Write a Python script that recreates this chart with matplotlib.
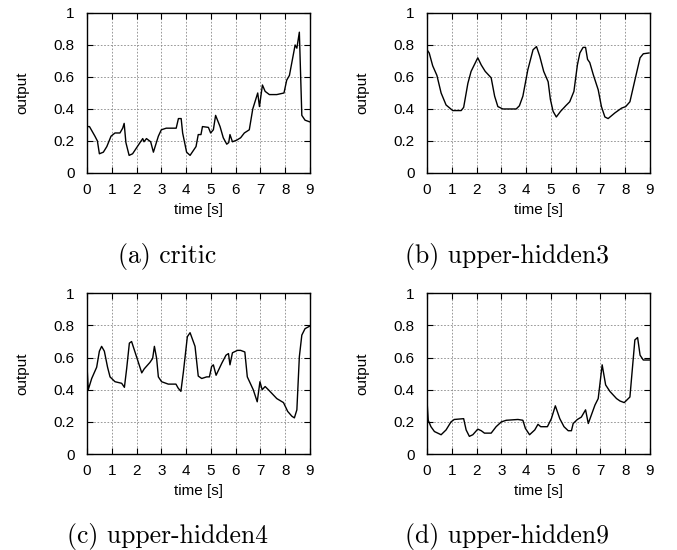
import matplotlib
matplotlib.use("Agg")
import matplotlib.pyplot as plt

# time [s] / output values
t_critic = [0, 0.1, 0.32, 0.42, 0.5, 0.66, 0.8, 0.97, 1.13, 1.33, 1.44, 1.5, 1.57, 1.7, 1.84,
            2.14, 2.25, 2.3, 2.4, 2.57, 2.68, 2.88, 3.0, 3.2, 3.6, 3.69, 3.8, 3.86, 4.02, 4.16,
            4.4, 4.49, 4.6, 4.66, 4.9, 4.99, 5.1, 5.19, 5.37, 5.5, 5.64, 5.72, 5.77, 5.87, 6.04,
            6.2, 6.35, 6.55, 6.69, 6.89, 6.96, 7.08, 7.19, 7.36, 7.66, 7.95, 8.06, 8.17, 8.4,
            8.47, 8.57, 8.67, 8.8, 8.98]
y_critic = [0.29, 0.29, 0.23, 0.20, 0.12, 0.13, 0.165, 0.23, 0.25, 0.25, 0.28, 0.31, 0.19, 0.11, 0.12,
            0.19, 0.215, 0.195, 0.215, 0.195, 0.13, 0.23, 0.27, 0.28, 0.28, 0.34, 0.34, 0.25, 0.13, 0.11,
            0.165, 0.24, 0.24, 0.29, 0.285, 0.25, 0.27, 0.36, 0.29, 0.22, 0.18, 0.19, 0.24, 0.195, 0.205,
            0.22, 0.25, 0.27, 0.40, 0.50, 0.415, 0.55, 0.51, 0.49, 0.49, 0.50, 0.58, 0.61, 0.80,
            0.78, 0.88, 0.36, 0.33, 0.32]

t_h3 = [0, 0.09, 0.23, 0.4, 0.57, 0.77, 1.04, 1.38, 1.48, 1.65, 1.78, 2.05, 2.19, 2.35, 2.59,
        2.73, 2.86, 3.06, 3.6, 3.73, 3.87, 4.07, 4.28, 4.42, 4.55, 4.71, 4.89, 4.98, 5.09, 5.22,
        5.39, 5.6, 5.76, 5.93, 6.07, 6.17, 6.3, 6.4, 6.48, 6.57, 6.71, 6.91, 7.04, 7.18, 7.31,
        7.58, 7.85, 8.02, 8.19, 8.39, 8.6, 8.73, 8.96]
y_h3 = [0.77, 0.75, 0.67, 0.61, 0.50, 0.425, 0.39, 0.39, 0.41, 0.56, 0.635, 0.72, 0.675, 0.635, 0.595,
        0.48, 0.415, 0.40, 0.40, 0.42, 0.48, 0.645, 0.77, 0.79, 0.73, 0.635, 0.57, 0.46, 0.385, 0.35,
        0.385, 0.42, 0.445, 0.51, 0.675, 0.75, 0.785, 0.785, 0.71, 0.69, 0.615, 0.52, 0.415, 0.35, 0.34,
        0.375, 0.405, 0.415, 0.445, 0.58, 0.72, 0.745, 0.75]

t_h4 = [0, 0.05, 0.19, 0.39, 0.5, 0.59, 0.7, 0.83, 0.93, 1.13, 1.4, 1.51, 1.6, 1.71, 1.8,
        2.0, 2.21, 2.31, 2.54, 2.65, 2.72, 2.81, 2.88, 3.01, 3.28, 3.59, 3.68, 3.79, 3.89, 4.05,
        4.16, 4.36, 4.49, 4.63, 4.83, 4.94, 5.03, 5.1, 5.21, 5.44, 5.61, 5.71, 5.77, 5.87, 6.07,
        6.2, 6.37, 6.47, 6.71, 6.87, 6.98, 7.07, 7.19, 7.32, 7.66, 7.93, 8.1, 8.27, 8.37, 8.47,
        8.57, 8.67, 8.8, 8.98]
y_h4 = [0.55, 0.40, 0.47, 0.54, 0.64, 0.67, 0.64, 0.54, 0.48, 0.45, 0.44, 0.415, 0.53, 0.69, 0.70,
        0.605, 0.505, 0.53, 0.57, 0.595, 0.67, 0.595, 0.48, 0.45, 0.435, 0.435, 0.41, 0.39, 0.51, 0.73,
        0.755, 0.67, 0.485, 0.47, 0.48, 0.48, 0.545, 0.555, 0.49, 0.565, 0.615, 0.625, 0.555, 0.63, 0.645,
        0.645, 0.635, 0.48, 0.40, 0.325, 0.45, 0.40, 0.42, 0.40, 0.345, 0.32, 0.265, 0.235, 0.225, 0.275,
        0.605, 0.74, 0.78, 0.795]

t_h9 = [0, 0.05, 0.16, 0.3, 0.57, 0.77, 0.97, 1.1, 1.48, 1.58, 1.71, 1.85, 2.05, 2.19, 2.32,
        2.59, 2.79, 3.0, 3.2, 3.67, 3.87, 3.97, 4.14, 4.35, 4.48, 4.59, 4.86, 5.02, 5.18, 5.36,
        5.53, 5.7, 5.83, 5.9, 6.07, 6.23, 6.4, 6.51, 6.78, 6.91, 7.07, 7.21, 7.38, 7.65, 7.79,
        7.96, 8.06, 8.19, 8.39, 8.5, 8.6, 8.73, 9.0]
y_h9 = [0.335, 0.21, 0.17, 0.14, 0.12, 0.15, 0.20, 0.215, 0.22, 0.15, 0.11, 0.12, 0.155, 0.145, 0.13,
        0.13, 0.17, 0.20, 0.21, 0.215, 0.21, 0.16, 0.12, 0.15, 0.185, 0.17, 0.17, 0.22, 0.30, 0.22,
        0.17, 0.145, 0.145, 0.19, 0.215, 0.23, 0.275, 0.19, 0.305, 0.345, 0.555, 0.43, 0.39, 0.345, 0.33,
        0.32, 0.335, 0.355, 0.71, 0.725, 0.615, 0.585, 0.585]

captions = ["(a) critic", "(b) upper-hidden3", "(c) upper-hidden4", "(d) upper-hidden9"]
xticks = list(range(10))
yticks = [0, 0.2, 0.4, 0.6, 0.8, 1]
yticklabels = ["0", "0.2", "0.4", "0.6", "0.8", "1"]

plt.rcParams['font.family'] = ['Liberation Sans', 'DejaVu Sans']

fig = plt.figure(figsize=(6.77, 5.5), dpi=100)

series = [(t_critic, y_critic), (t_h3, y_h3), (t_h4, y_h4), (t_h9, y_h9)]
axes_pos = [[0.1285, 0.6855, 0.3294, 0.2909],
            [0.6307, 0.6855, 0.3294, 0.2909],
            [0.1285, 0.1745, 0.3294, 0.2922],
            [0.6307, 0.1745, 0.3294, 0.2922]]
caption_xy = [(0.2467, 0.522), (0.749, 0.522), (0.2467, 0.013), (0.749, 0.013)]

for (t, y), pos, cap, (cx, cy) in zip(series, axes_pos, captions, caption_xy):
    ax = fig.add_axes(pos)
    ax.plot(t, y, color='black', linewidth=1.0)
    ax.set_xlim(0, 9)
    ax.set_ylim(0, 1)
    ax.set_xticks(xticks)
    ax.set_yticks(yticks)
    ax.set_yticklabels(yticklabels)
    ax.tick_params(direction='in', length=4, width=0.8, labelsize=11,
                   top=True, right=True, color='black')
    ax.tick_params(axis='x', pad=7)
    ax.tick_params(axis='y', pad=9)
    ax.grid(True, color='#888888', linestyle=(0, (2, 2)), linewidth=0.6)
    for s in ax.spines.values():
        s.set_linewidth(1.0)
    ax.set_xlabel("time [s]", fontsize=11)
    ax.set_ylabel("output", fontsize=11)
    ax.xaxis.set_label_coords(0.5, -0.185)
    ax.yaxis.set_label_coords(-0.26, 0.5)
    fig.text(cx, cy, cap, fontsize=18.5, family='cmr10', ha='center', va='baseline')

fig.savefig("out.png", dpi=100)
